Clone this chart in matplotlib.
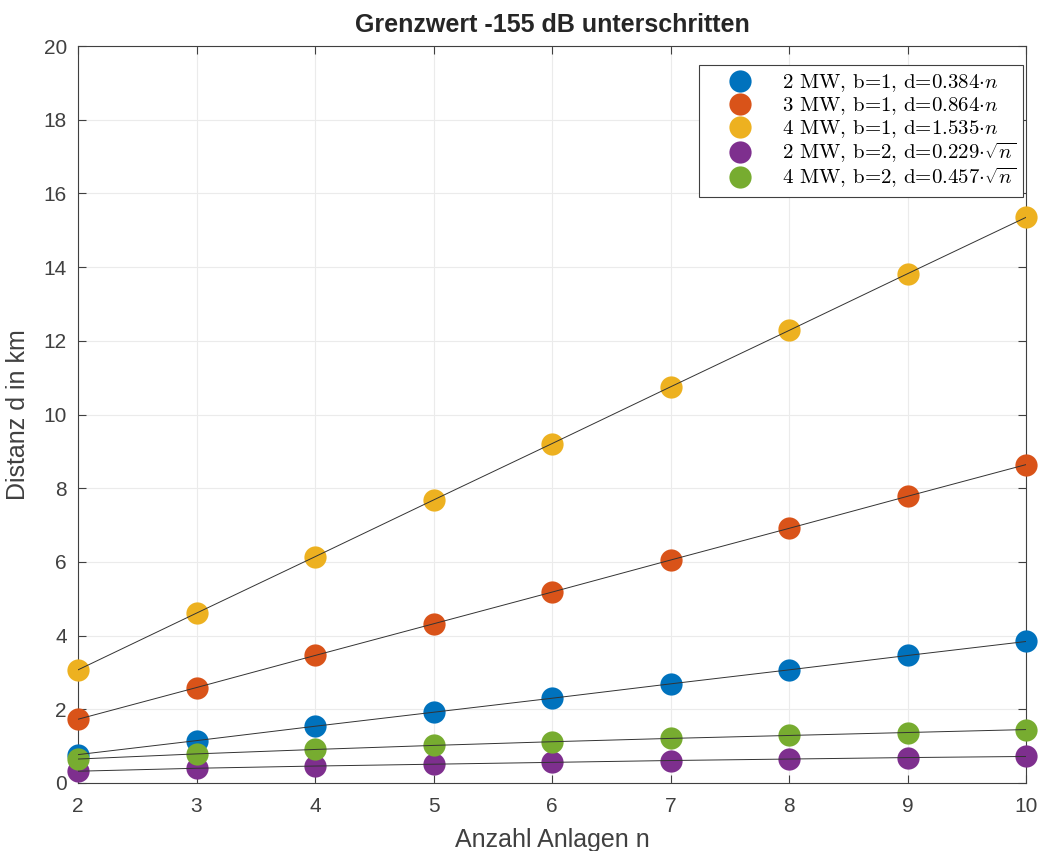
import matplotlib.pyplot as plt

n = [2, 3, 4, 5, 6, 7, 8, 9, 10]

# distances (km)
d_2mw_b1 = [0.77, 1.15, 1.54, 1.92, 2.30, 2.69, 3.07, 3.46, 3.84]
d_3mw_b1 = [1.73, 2.59, 3.46, 4.32, 5.18, 6.05, 6.91, 7.78, 8.64]
d_4mw_b1 = [3.07, 4.61, 6.14, 7.68, 9.21, 10.75, 12.28, 13.82, 15.35]
d_2mw_b2 = [0.32, 0.40, 0.46, 0.51, 0.56, 0.61, 0.65, 0.69, 0.72]
d_4mw_b2 = [0.65, 0.79, 0.91, 1.02, 1.12, 1.21, 1.29, 1.37, 1.45]

labels = [r'2 MW, b=1, d=0.384$\cdot n$',
          r'3 MW, b=1, d=0.864$\cdot n$',
          r'4 MW, b=1, d=1.535$\cdot n$',
          r'2 MW, b=2, d=0.229$\cdot\sqrt{n}$',
          r'4 MW, b=2, d=0.457$\cdot\sqrt{n}$']
colors = ['#0072BD', '#D95319', '#EDB120', '#7E2F8E', '#77AC30']
series = [d_2mw_b1, d_3mw_b1, d_4mw_b1, d_2mw_b2, d_4mw_b2]

plt.rcParams['font.family'] = ['Liberation Sans', 'DejaVu Sans']
plt.rcParams['mathtext.fontset'] = 'cm'

fig = plt.figure(figsize=(10.41, 8.51), dpi=100)
ax = fig.add_axes([78 / 1041, 1 - 783 / 851, 948 / 1041, 737 / 851])

for d, c, lab in zip(series, colors, labels):
    ax.plot(n, d, 'o', color=c, markersize=16, markeredgewidth=0,
            label=lab, clip_on=False, zorder=3)
for d in series:
    ax.plot(n, d, '-', color='#333333', linewidth=0.7, zorder=4)

ax.set_xlim(2, 10)
ax.set_ylim(0, 20)
ax.set_xticks(range(2, 11))
ax.set_yticks(range(0, 21, 2))
ax.grid(True, color='#ebebeb', linewidth=0.8)
ax.set_axisbelow(True)
for s in ax.spines.values():
    s.set_color('#404040')
    s.set_linewidth(0.8)
ax.tick_params(direction='in', top=True, right=True, length=6, width=0.8,
               color='#404040', labelsize=15, labelcolor='#404040')
ax.tick_params(axis='x', pad=10)
ax.tick_params(axis='y', pad=8)

ax.set_xlabel('Anzahl Anlagen n', fontsize=18, color='#404040', labelpad=9)
ax.set_ylabel('Distanz d in km', fontsize=18, color='#404040', labelpad=10)
ax.set_title('Grenzwert -155 dB unterschritten', fontsize=18, fontweight='bold',
             color='#262626', pad=10)

leg = ax.legend(loc='upper right', bbox_to_anchor=(0.9968, 0.974),
                prop={'family': 'cmr10', 'size': 15},
                fancybox=False, edgecolor='#404040', framealpha=1,
                handlelength=3.2, handletextpad=0.4, labelspacing=0.05,
                borderpad=0.35, borderaxespad=0)
leg.get_frame().set_linewidth(0.8)

fig.savefig('out.png', dpi=100)
